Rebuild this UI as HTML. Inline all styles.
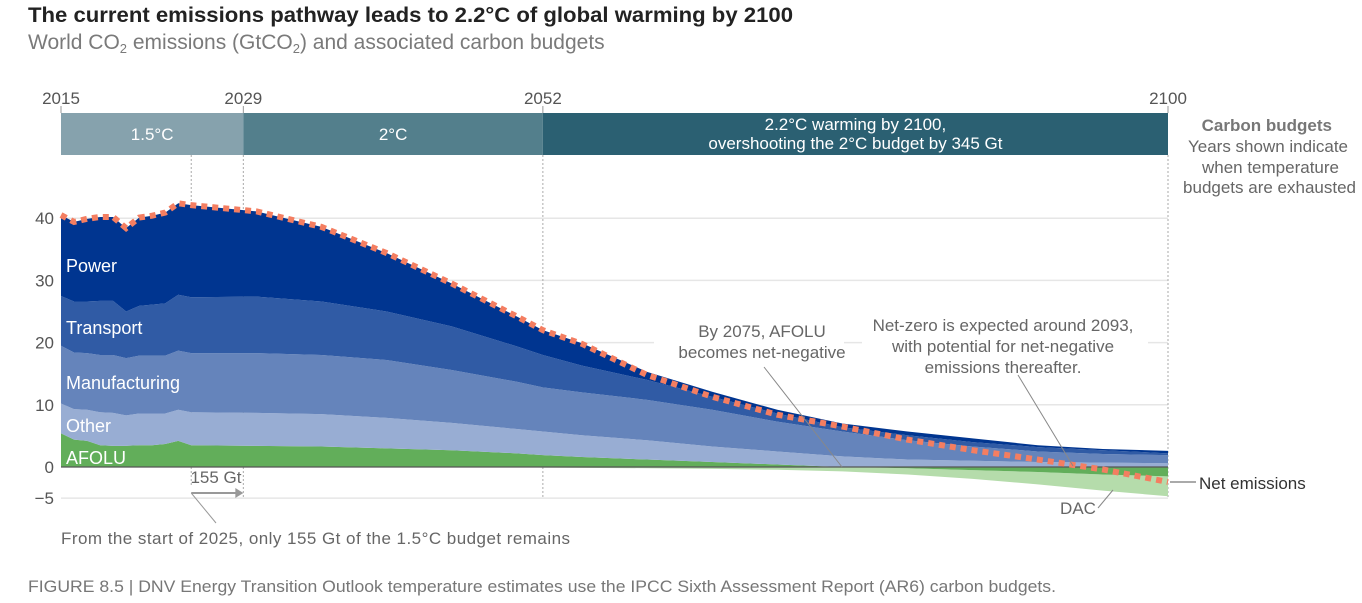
<!DOCTYPE html>
<html><head><meta charset="utf-8">
<style>
body{margin:0;background:#fff;width:1362px;height:598px;overflow:hidden;font-family:"Liberation Sans",sans-serif;}
svg text{font-family:"Liberation Sans",sans-serif;}
</style></head>
<body>
<svg id="chart" width="1362" height="598" xmlns="http://www.w3.org/2000/svg">
<text x="28" y="22" font-size="21.5" font-weight="bold" fill="#222" textLength="765" lengthAdjust="spacingAndGlyphs">The current emissions pathway leads to 2.2°C of global warming by 2100</text>
<text x="28" y="49" font-size="21" fill="#7a7a7a">World CO<tspan font-size="13" dy="4">2</tspan><tspan dy="-4"> emissions (GtCO</tspan><tspan font-size="13" dy="4">2</tspan><tspan dy="-4">) and associated carbon budgets</tspan></text>
<g id="grid"></g>
<g id="areas"></g>
<g id="overlay"></g>
<text x="28" y="592" font-size="16.5" fill="#777" textLength="1028" lengthAdjust="spacingAndGlyphs">FIGURE 8.5 | DNV Energy Transition Outlook temperature estimates use the IPCC Sixth Assessment Report (AR6) carbon budgets.</text>
</svg>
<script>
const years=[2015,2016,2017,2018,2019,2020,2021,2022,2023,2024,2025,2030,2035,2040,2045,2050,2052,2055,2060,2065,2070,2075,2080,2085,2090,2095,2100];
const afolu=[5.4,4.4,4.2,3.5,3.4,3.4,3.5,3.5,3.7,4.2,3.5,3.4,3.3,3.0,2.7,2.2,1.9,1.6,1.2,0.8,0.4,0,-0.2,-0.5,-0.8,-1.2,-1.5];
const other=[4.8,4.9,5.0,5.3,5.3,4.9,5.1,5.1,4.9,5.0,5.3,5.3,5.2,4.9,4.4,3.9,3.8,3.5,3.1,2.5,2.1,1.7,1.2,1.0,0.8,0.7,0.6];
const manufacturing=[9.3,9.1,9.1,9.2,9.3,9.2,9.3,9.3,9.3,9.5,9.5,9.6,9.5,9.3,8.5,7.6,7.1,6.9,6.5,5.9,4.8,4.0,3.1,2.3,1.7,1.4,1.3];
const transport=[8.0,8.2,8.3,8.7,8.7,7.5,8.0,8.2,8.4,9.0,9.0,9.1,8.6,7.8,7.0,5.7,5.2,4.3,3.2,2.1,1.3,0.7,0.8,0.7,0.7,0.6,0.3];
const power=[13.0,12.8,13.3,13.5,13.5,13.4,14.2,14.3,14.6,14.7,14.8,13.7,12.0,9.4,6.9,4.8,4.0,3.6,1.3,0.8,0.6,0.6,0.6,0.6,0.3,0.2,0.4];
const dac=[0,0,0,0,0,0,0,0,0,0,0,0,0,0,0,0,-0.1,-0.15,-0.2,-0.3,-0.45,-0.7,-1.0,-1.4,-2.0,-2.6,-3.2];
const net=[40.5,39.4,39.9,40.2,40.2,38.4,40.1,40.4,40.9,42.4,42.1,41.1,38.6,34.4,29.5,24.2,22.0,19.8,14.8,11.3,8.4,6.5,4.4,2.7,1.2,-0.4,-2.4];
const yTicks=[40,30,20,10,0,-5];
const budgetYears=[2015,2029,2052,2100];
const budgetLabels=[["1.5°C"],["2°C"],["2.2°C warming by 2100,","overshooting the 2°C budget by 345 Gt"]];

const NS="http://www.w3.org/2000/svg";
const X=y=>61+(y-2015)*(1168-61)/85;
const Y=v=>467-v*6.22;
function mk(tag,attrs,parent){const e=document.createElementNS(NS,tag);for(const k in attrs)e.setAttribute(k,attrs[k]);parent.appendChild(e);return e;}
const grid=document.getElementById('grid'),areas=document.getElementById('areas'),ov=document.getElementById('overlay');
const FS=17;

yTicks.forEach(t=>{
  if(t!==0){const l=mk('line',{x1:61,x2:1168,y1:Y(t),y2:Y(t),stroke:'#e6e6e6','stroke-width':1.5},grid);
  
  }
  const tx=mk('text',{x:54,y:Y(t)+6,'font-size':FS,fill:'#555','text-anchor':'end'},grid);
  tx.textContent=t<0?'−5':String(t);
  
  
});

const bandColors=['#86a2ad','#537f8c','#2b6072'];
for(let i=0;i<3;i++){
  const x0=X(budgetYears[i]),x1=X(budgetYears[i+1]);
  const r=mk('rect',{x:x0,y:113,width:x1-x0,height:42,fill:bandColors[i]},grid);
  
  
  const lines=budgetLabels[i];
  lines.forEach((s,j)=>{
    const t=mk('text',{x:(x0+x1)/2,y:lines.length===1?140:130+j*19,'font-size':FS,fill:'#fff','text-anchor':'middle'},grid);
    t.textContent=s;
    
    
  });
}
budgetYears.forEach(y=>{
  const t=mk('text',{x:X(y),y:104,'font-size':FS,fill:'#555','text-anchor':'middle'},grid);
  t.textContent=y;
  
  
  mk('line',{x1:X(y),x2:X(y),y1:106,y2:113,stroke:'#999'},grid);
  if(y>2015){const l=mk('line',{x1:X(y),x2:X(y),y1:155,y2:498,stroke:'#aaa','stroke-dasharray':'2,2'},grid);
  
  }
});
const l25=mk('line',{x1:X(2025),x2:X(2025),y1:155,y2:487,stroke:'#aaa','stroke-dasharray':'2,2'},grid);



function band(lo,hi,color,name){
  let d='M'+years.map((y,i)=>X(y)+','+Y(hi[i])).join('L');
  for(let i=years.length-1;i>=0;i--)d+='L'+X(years[i])+','+Y(lo[i]);
  const p=mk('path',{d:d+'Z',fill:color},areas);
  
  
}
const zero=years.map(()=>0);
const aPos=afolu.map(v=>Math.max(v,0)),aNeg=afolu.map(v=>Math.min(v,0));
const c1=aPos, c2=c1.map((v,i)=>v+other[i]), c3=c2.map((v,i)=>v+manufacturing[i]), c4=c3.map((v,i)=>v+transport[i]), c5=c4.map((v,i)=>v+power[i]);
const n2=aNeg.map((v,i)=>v+dac[i]);
band(aNeg,n2,'#b5dcab','dac-area');
band(zero,aPos,'#62ae5a','afolu-area');
band(aNeg,zero,'#62ae5a','afolu-negative-area');
band(c1,c2,'#98add3','other-area');
band(c2,c3,'#6584bb','manufacturing-area');
band(c3,c4,'#305ba5','transport-area');
band(c4,c5,'#003590','power-area');
const z=mk('line',{x1:61,x2:1168,y1:Y(0),y2:Y(0),stroke:'#555','stroke-width':1.2},areas);



const nl=mk('polyline',{points:years.map((y,i)=>X(y)+','+Y(net[i])).join(' '),fill:'none',stroke:'#f47e61','stroke-width':6,'stroke-dasharray':'6,5'},ov);



const labs=[['Power',266],['Transport',328],['Manufacturing',383],['Other',426],['AFOLU',458]];
labs.forEach(([s,y])=>{const t=mk('text',{x:66,y:y+6,'font-size':18,fill:'#fff'},ov);t.textContent=s;

});

function txt(s,x,y,anchor,name,fill){const t=mk('text',{x:x,y:y,'font-size':FS,fill:fill||'#666','text-anchor':anchor},ov);t.textContent=s;return t;}
mk('rect',{x:654,y:315,width:190,height:48,fill:'#fff'},ov);
txt('By 2075, AFOLU',762,337,'middle','afolu-annotation');
txt('becomes net-negative',762,358,'middle','afolu-annotation-2');
mk('line',{x1:764,x2:842,y1:367,y2:467,stroke:'#888'},ov);
mk('rect',{x:862,y:315,width:286,height:64,fill:'#fff'},ov);
txt('Net-zero is expected around 2093,',1003,331,'middle','netzero-annotation');
txt('with potential for net-negative',1003,352,'middle','netzero-annotation-2');
txt('emissions thereafter.',1003,373,'middle','netzero-annotation-3');
mk('line',{x1:1018,x2:1073,y1:375,y2:466,stroke:'#888'},ov);
txt('DAC',1078,514,'middle','dac-label');
mk('line',{x1:1098,x2:1113,y1:508,y2:490,stroke:'#888'},ov);
mk('line',{x1:1170,x2:1196,y1:482,y2:482,stroke:'#555'},ov);
txt('Net emissions',1199,489,'start','net-emissions-label','#333');
txt('Carbon budgets',1332,131,'end','carbon-budgets-title','#777').setAttribute('font-weight','bold');
txt('Years shown indicate',1348,152,'end','carbon-budgets-note');
txt('when temperature',1339,173,'end','carbon-budgets-note-2');
txt('budgets are exhausted',1356,193,'end','carbon-budgets-note-3');
txt('155 Gt',216,483,'middle','budget-remaining-label');
mk('line',{x1:X(2025),x2:X(2029)-6,y1:493,y2:493,stroke:'#999','stroke-width':2},ov);
mk('path',{d:`M${X(2029)-8},488L${X(2029)},493L${X(2029)-8},498Z`,fill:'#999'},ov);
mk('line',{x1:X(2025),x2:216,y1:493,y2:523,stroke:'#999'},ov);
txt('From the start of 2025, only 155 Gt of the 1.5°C budget remains',61,544,'start','budget-remaining-note').setAttribute('textLength','509');
</script>
</body></html>
